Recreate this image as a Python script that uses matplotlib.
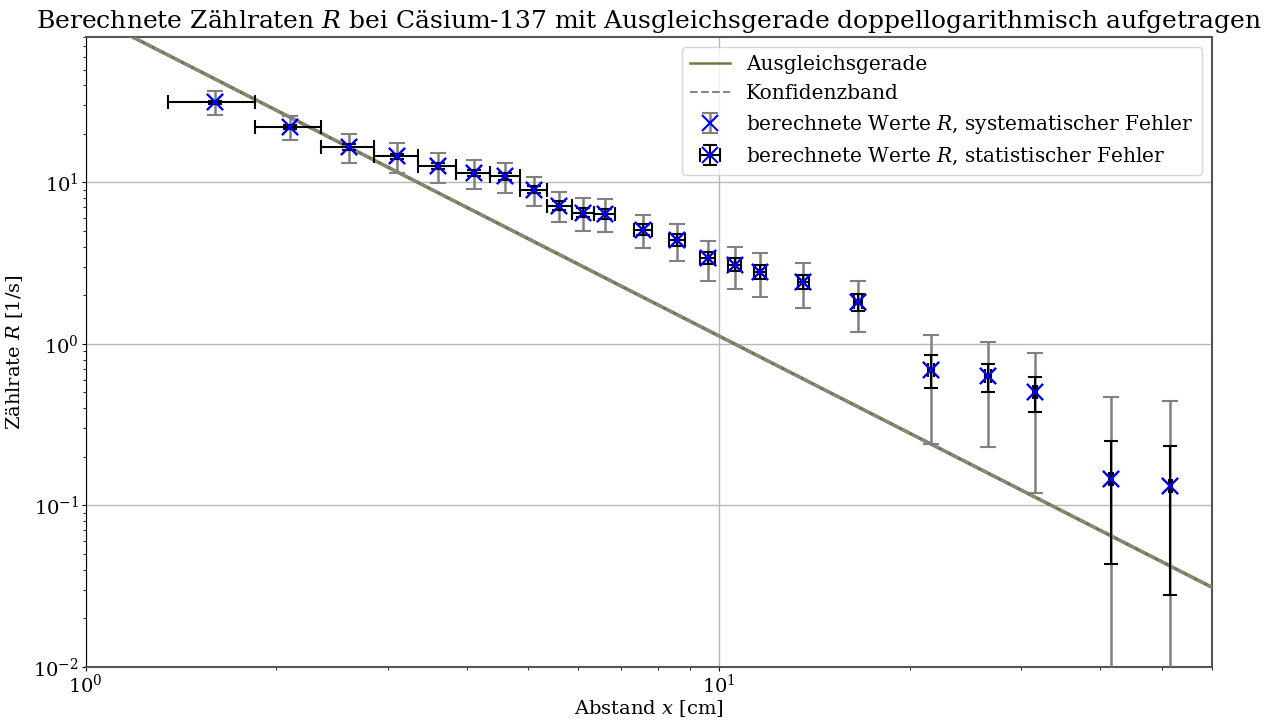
import numpy as np
import matplotlib
matplotlib.use("Agg")
import matplotlib.pyplot as plt

plt.rcParams['font.family'] = ['DejaVu Serif']
plt.rcParams['mathtext.fontset'] = 'dejavuserif'
plt.rcParams['axes.unicode_minus'] = False

# Abstand x in cm
abstand = [1.6, 2.1, 2.6, 3.1, 3.6, 4.1, 4.6, 5.1, 5.6, 6.1, 6.6, 7.6, 8.6,
           9.6, 10.6, 11.6, 13.6, 16.6, 21.6, 26.6, 31.6, 41.6, 51.6]
abstand_err = 0.25

# berechnete Zaehlraten R in 1/s
rate = [31.4, 22.0, 16.6, 14.5, 12.6, 11.4, 10.9, 9.0, 7.2, 6.5, 6.4, 5.1, 4.4,
        3.42, 3.10, 2.80, 2.43, 1.82, 0.69, 0.63, 0.50, 0.146, 0.131]
rate_sys = [5.3, 3.7, 3.4, 3.0, 2.7, 2.35, 2.3, 1.8, 1.5, 1.5, 1.5, 1.2, 1.13,
            0.95, 0.9, 0.85, 0.76, 0.64, 0.45, 0.40, 0.38, 0.32, 0.31]
rate_stat = [0.8, 0.7, 0.6, 0.6, 0.55, 0.5, 0.5, 0.45, 0.45, 0.42, 0.42, 0.4, 0.37,
             0.31, 0.29, 0.26, 0.23, 0.23, 0.16, 0.125, 0.12, 0.103, 0.103]

# Ausgleichsgerade R = a * x^b
fit_a = 112.0
fit_b = -2.0
fit_a_band = [111.5, 112.5]

fig = plt.figure(figsize=(12.8, 7.2), dpi=100)
ax = fig.add_axes([0.067, 0.074, 0.8796, 0.875])

xs = np.logspace(0, np.log10(60), 200)
ax.plot(xs, fit_a * xs**fit_b, color='#6b7a3f', lw=2.5, label='Ausgleichsgerade', zorder=3)
ax.plot(xs, fit_a_band[0] * xs**fit_b, color='#888888', ls='--', lw=1.5,
        label='Konfidenzband', zorder=4)
ax.plot(xs, fit_a_band[1] * xs**fit_b, color='#888888', ls='--', lw=1.5, zorder=4)

ax.errorbar(abstand, rate, yerr=rate_sys, fmt='x', color='blue', ms=11, mew=1.5,
            ecolor='gray', elinewidth=1.8, capsize=6, capthick=1.2,
            label='berechnete Werte $R$, systematischer Fehler', zorder=5)
ax.errorbar(abstand, rate, yerr=rate_stat, xerr=abstand_err, fmt='x', color='blue',
            ms=11, mew=1.5, ecolor='black', elinewidth=1.5, capsize=5, capthick=1.2,
            label='berechnete Werte $R$, statistischer Fehler', zorder=6)

ax.set_xscale('log')
ax.set_yscale('log')
ax.set_xlim(1, 60)
ax.set_ylim(0.01, 80)
ax.grid(True, which='major', color='#b8b8b8', lw=1)
ax.set_axisbelow(True)
for side in ['top', 'right', 'bottom']:
    ax.spines[side].set_color('#555555')
    ax.spines[side].set_linewidth(1.5)
ax.spines['left'].set_color('black')
ax.tick_params(which='major', length=3, labelsize=14, pad=2)
ax.tick_params(which='minor', length=2.5)

ax.set_xlabel('Abstand $x$ [cm]', fontsize=14, labelpad=1)
ax.set_ylabel('Zählrate $R$ [1/s]', fontsize=14, labelpad=6)
ax.set_title('Berechnete Zählraten $R$ bei Cäsium-137 mit Ausgleichsgerade doppellogarithmisch aufgetragen',
             fontsize=18)
leg = ax.legend(loc='upper right', fontsize=14.5, framealpha=0.8, handlelength=2.0)
leg.get_lines()[0].set_linewidth(1.8)

fig.savefig('out.png', dpi=100)
